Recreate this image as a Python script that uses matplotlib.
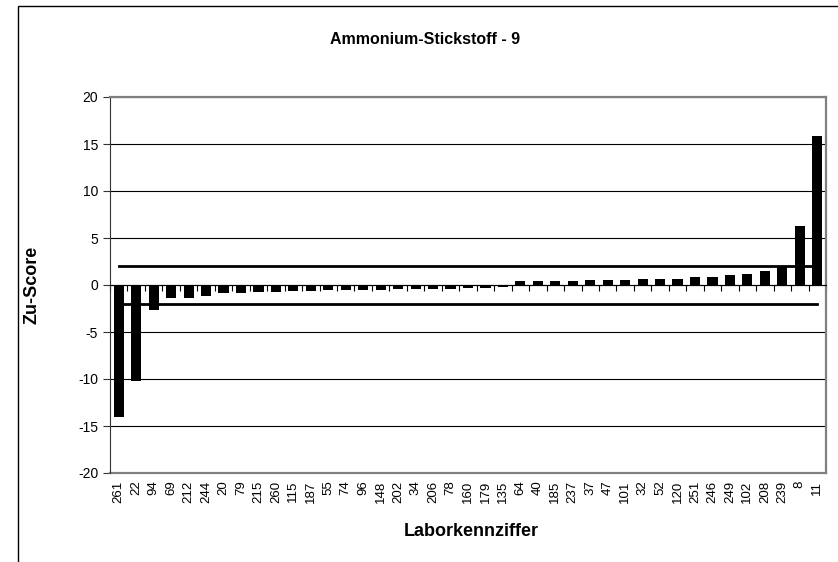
import matplotlib
matplotlib.use("Agg")
import matplotlib.pyplot as plt
from matplotlib.patches import Rectangle
import numpy as np

plt.rcParams['font.family'] = ['Liberation Sans', 'DejaVu Sans']
plt.rcParams['axes.unicode_minus'] = False

labels = ["261", "22", "94", "69", "212", "244", "20", "79", "215", "260", "115", "187",
          "55", "74", "96", "148", "202", "34", "206", "78", "160", "179", "135", "64",
          "40", "185", "237", "37", "47", "101", "32", "52", "120", "251", "246", "249",
          "102", "208", "239", "8", "11"]
scores = [-14.0, -10.2, -2.7, -1.4, -1.4, -1.2, -0.85, -0.8, -0.7, -0.7, -0.6, -0.6,
          -0.55, -0.55, -0.5, -0.5, -0.45, -0.45, -0.4, -0.4, -0.35, -0.35, -0.25, 0.4,
          0.4, 0.4, 0.4, 0.5, 0.5, 0.55, 0.6, 0.65, 0.65, 0.8, 0.8, 1.05,
          1.2, 1.45, 1.95, 6.3, 15.8]
limits = [2, -2]

fig = plt.figure(figsize=(8.38, 5.62), dpi=100)
fig.patches.append(Rectangle((18 / 838, -0.1), 2.0, (562 - 6) / 562 + 0.1,
                             transform=fig.transFigure, fill=False,
                             edgecolor='black', linewidth=1.0))
ax = fig.add_axes([110 / 838, (562 - 473) / 562, (826 - 110) / 838, (473 - 97) / 562])

x = np.arange(len(labels))
ax.bar(x, scores, width=0.58, color='black', zorder=3)
for lim in limits:
    ax.plot([x[0], x[-1]], [lim, lim], color='black', linewidth=2.0, zorder=4)

ax.set_xlim(-0.5, len(labels) - 0.5)
ax.set_ylim(-20, 20)
ax.set_yticks(np.arange(-20, 21, 5))
ax.yaxis.grid(True, color='black', linewidth=0.8)
ax.set_axisbelow(True)

ax.spines['bottom'].set_position(('data', 0))
ax.spines['bottom'].set_color('black')
ax.spines['bottom'].set_zorder(5)
ax.spines['left'].set_color('#333333')
ax.spines['top'].set_color('#808080')
ax.spines['right'].set_color('#808080')
ax.spines['top'].set_linewidth(1.6)
ax.spines['right'].set_linewidth(1.6)
ax.axhline(-20, color='#808080', linewidth=1.6, zorder=1, clip_on=False)

ax.set_xticks(np.arange(len(labels) + 1) - 0.5)
ax.set_xticklabels([''] * (len(labels) + 1))
ax.tick_params(axis='x', direction='out', length=4, color='black')
for xi, lab in zip(x, labels):
    ax.text(xi, -20.8, lab, rotation=90, ha='center', va='top', fontsize=9.5)

ax.tick_params(axis='y', direction='out', length=5, labelsize=10, color='#333333')

fig.text(425 / 838, 1 - 40 / 562, 'Ammonium-Stickstoff - 9', ha='center', va='center',
         fontsize=11.5, fontweight='bold')
fig.text(32 / 838, 1 - 285 / 562, 'Zu-Score', rotation=90, ha='center', va='center',
         fontsize=13, fontweight='bold')
fig.text(471 / 838, 1 - 531 / 562, 'Laborkennziffer', ha='center', va='center',
         fontsize=13, fontweight='bold')

fig.savefig('out.png', dpi=100)
